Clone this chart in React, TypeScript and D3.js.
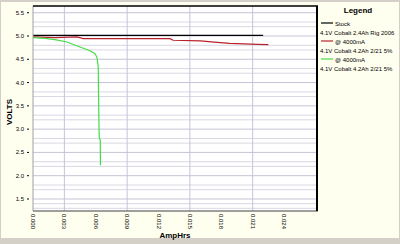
import React from "react";
import * as d3 from "d3";

const xTicks = [0, 0.003, 0.006, 0.009, 0.012, 0.015, 0.018, 0.021, 0.024];
const xTickLabels = ["0.000", "0.003", "0.006", "0.009", "0.012", "0.015", "0.018", "0.021", "0.024"];
const xGrid = [0.003, 0.009, 0.015, 0.021];
const yTicks = [1.5, 2.0, 2.5, 3.0, 3.5, 4.0, 4.5, 5.0, 5.5];
const yTickLabels = ["1.5", "2.0", "2.5", "3.0", "3.5", "4.0", "4.5", "5.0", "5.5"];
const yMinor = [1.3, 1.4, 1.7, 1.8, 2.2, 2.3, 2.7, 2.8, 3.2, 3.3, 3.7, 3.8, 4.2, 4.3, 4.7, 4.8, 5.2, 5.3];

const stockX = [0, 0.022];
const stockY = [5.015, 5.015];

const redX = [0, 0.0021, 0.0042, 0.0048, 0.0131, 0.0134, 0.016, 0.0176, 0.0188, 0.0215, 0.0225];
const redY = [4.983, 4.966, 4.979, 4.944, 4.944, 4.908, 4.893, 4.865, 4.843, 4.82, 4.815];

const greenX = [0, 0.00115, 0.0021, 0.00325, 0.00449, 0.00545, 0.00592, 0.00611, 0.00624, 0.00626, 0.0063, 0.00633, 0.00643, 0.00645];
const greenY = [4.966, 4.95, 4.923, 4.871, 4.764, 4.682, 4.618, 4.543, 4.334, 3.834, 3.19, 2.825, 2.76, 2.224];

const legendNames = ["Stock", "@ 4000mA", "@ 4000mA"];
const legendNotes = ["4.1V Cobalt 2.4Ah Rig 2006", "4.1V Cobalt 4.2Ah 2/21 5%", "4.1V Cobalt 4.2Ah 2/21 5%"];
const seriesColors = ["#000000", "#b8222c", "#44dd44"];

export default function App() {
  const W = 400, H = 244;
  const L = 33, R = 317, T = 6, B = 211;
  const x = d3.scaleLinear().domain([0, 0.02715]).range([L, R]);
  const y = d3.scaleLinear().domain([1.242, 5.644]).range([B, T]);
  const line = d3.line<[number, number]>().x(d => x(d[0])).y(d => y(d[1]));
  const zip = (a: number[], b: number[]) => a.map((v, i) => [v, b[i]] as [number, number]);
  const series = [zip(stockX, stockY), zip(redX, redY), zip(greenX, greenY)];
  const font = "'Liberation Sans', Arial, sans-serif";

  return (
    <svg width={W} height={H} style={{ position: "absolute", left: 0, top: 0 }} fontFamily={font}>
      <rect x={0} y={0} width={W} height={H} fill="#d4d0c8" />
      <rect x={1} y={2} width={W - 2} height={236} fill="#fffff0" />
      <rect x={L} y={T} width={R - L} height={B - T} fill="#ffffff" />
      {yMinor.map((v, i) => (
        <line key={"ym" + i} x1={L} x2={R} y1={y(v)} y2={y(v)} stroke="#d8d8e4" strokeWidth={1} />
      ))}
      {yTicks.map((v, i) => (
        <line key={"yg" + i} x1={L} x2={R} y1={y(v)} y2={y(v)} stroke="#c4c4d4" strokeWidth={1} />
      ))}
      {xGrid.map((v, i) => (
        <line key={"xg" + i} x1={x(v)} x2={x(v)} y1={T} y2={B} stroke="#c4c4d8" strokeWidth={1} />
      ))}
      {series.map((s, i) => (
        <path key={"s" + i} d={line(s) || ""} fill="none" stroke={seriesColors[i]} strokeWidth={1.2} />
      ))}
      <line x1={L} x2={L} y1={T} y2={B} stroke="#a0a0a0" />
      <line x1={L} x2={R + 1} y1={B} y2={B} stroke="#404040" strokeWidth={1.2} />
      <line x1={L} x2={R + 1} y1={T} y2={T} stroke="#000" strokeWidth={1.5} />
      <line x1={R} x2={R} y1={T} y2={B} stroke="#000" strokeWidth={2} />
      {yTicks.map((v, i) => (
        <g key={"yt" + i}>
          <text x={24} y={y(v) + 2} fontSize={6} textAnchor="end" fill="#000">{yTickLabels[i]}</text>
          <line x1={27} x2={29} y1={y(v)} y2={y(v)} stroke="#000" />
        </g>
      ))}
      {xTicks.map((v, i) => (
        <text key={"xt" + i} transform={`translate(${x(v) - 2},${214}) rotate(90)`} fontSize={6} fill="#000">
          {xTickLabels[i]}
        </text>
      ))}
      <text transform={`translate(12,112) rotate(-90)`} fontSize={8} fontWeight="bold" textAnchor="middle" fill="#000">VOLTS</text>
      <text x={175} y={238} fontSize={8} fontWeight="bold" textAnchor="middle" fill="#000">AmpHrs</text>
      <text x={358} y={13} fontSize={8} fontWeight="bold" textAnchor="middle" fill="#000">Legend</text>
      {legendNames.map((n, i) => (
        <g key={"lg" + i}>
          <line x1={321} x2={333} y1={23 + i * 18} y2={23 + i * 18} stroke={seriesColors[i]} strokeWidth={1.2} />
          <text x={335} y={25.5 + i * 18} fontSize={6} fill="#000">{n}</text>
          <text x={320} y={34.5 + i * 18} fontSize={6} fill="#000">{legendNotes[i]}</text>
        </g>
      ))}
    </svg>
  );
}
